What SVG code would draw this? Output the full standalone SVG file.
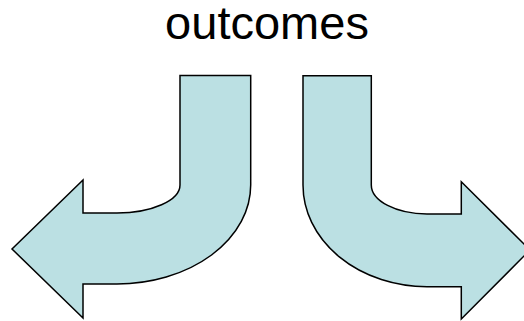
<svg xmlns="http://www.w3.org/2000/svg" width="524" height="321" viewBox="0 0 524 321">
<style>
.arrow{fill:#BBE0E3;stroke:#000;stroke-width:1.5;stroke-linejoin:miter}
.title{font-family:"Liberation Sans",Arial,sans-serif;font-size:47px;fill:#000;text-anchor:middle}
</style>
<rect width="524" height="321" fill="#fff"/>
<g id="title"><text class="title" x="267" y="38.5">outcomes</text></g>
<g id="left-arrow">
<path class="arrow" d="M180,75.5 L250.7,75.5 L250.7,185 A133.7,99 0 0 1 117,284 L83,284 L83,318 L12,249 L83,180 L83,213 L117,213 A63,28 0 0 0 180,185 Z"/>
</g>
<g id="right-arrow">
<path class="arrow" d="M303,75.7 L371.3,75.7 L371.3,185 A56,29 0 0 0 427,214 L461.3,214 L461.3,181.7 L530,250 L461.3,319 L461.3,286.7 L427,286.7 A124,101.7 0 0 1 303,185 Z"/>
</g>
<g id="connectors"></g>
</svg>
